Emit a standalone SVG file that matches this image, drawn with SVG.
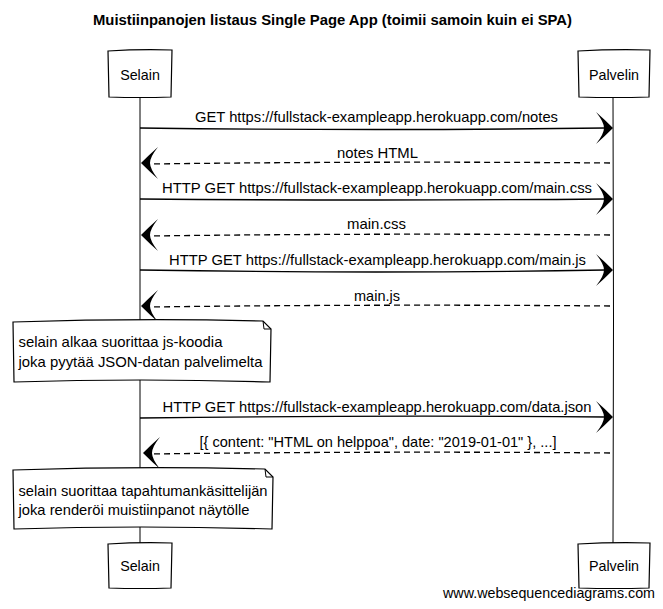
<svg xmlns="http://www.w3.org/2000/svg" width="663" height="609" viewBox="0 0 663 609">
<style>
text{font-family:"Liberation Sans",Arial,sans-serif;font-size:14.3px;fill:#000}
.title{font-weight:bold;font-size:14.5px}
.box{fill:#fff;stroke:#000;stroke-width:1.2}
.life{stroke:#000;stroke-width:1;fill:none}
.msg{stroke:#000;stroke-width:1.3;fill:none}
.ret{stroke:#000;stroke-width:1.3;fill:none;stroke-dasharray:6,4}
.head{fill:#000}
</style>
<defs>
<path id="hr" d="M0,0 Q-9,-9 -17,-16 Q-9,-6 -9,0 Q-9,6 -17,16 Q-9,9 0,0 Z"/>
<path id="hl" d="M0,0 Q9,-9 17,-16 Q9,-6 9,0 Q9,6 17,16 Q9,9 0,0 Z"/>
</defs>
<rect width="663" height="609" fill="#fff"/>
<text class="title" x="332.5" y="25" text-anchor="middle" textLength="479" lengthAdjust="spacingAndGlyphs">Muistiinpanojen listaus Single Page App (toimii samoin kuin ei SPA)</text>
<g id="lifelines">
<path class="life" d="M140,97 L140,543"/>
<path class="life" d="M613,97 Q614,320 613,543"/>
</g>
<g id="selain-top">
<path class="box" d="M108,51 Q140,49 172,50 L171,97 Q140,98 109,97 Z"/>
<text x="140" y="80" text-anchor="middle">Selain</text>
</g>
<g id="palvelin-top">
<path class="box" d="M578,51 Q614,49 650,50 L649,97 Q614,98 579,97 Z"/>
<text x="614" y="80" text-anchor="middle">Palvelin</text>
</g>
<g id="selain-bottom">
<path class="box" d="M108,544 Q140,542 172,543 L171,588 Q140,589 109,588 Z"/>
<text x="140" y="571" text-anchor="middle">Selain</text>
</g>
<g id="palvelin-bottom">
<path class="box" d="M578,544 Q614,542 650,543 L649,588 Q614,589 579,588 Z"/>
<text x="614" y="571" text-anchor="middle">Palvelin</text>
</g>
<g id="connectors">
<path class="msg" d="M140,128 Q380,131 605,128"/>
<use href="#hr" class="head" x="613" y="128"/>
<text x="376.5" y="122" text-anchor="middle" textLength="363" lengthAdjust="spacingAndGlyphs">GET https://fullstack-exampleapp.herokuapp.com/notes</text>

<path class="ret" d="M610,163 Q380,161 148,164"/>
<use href="#hl" class="head" x="141" y="163"/>
<text x="377.5" y="158" text-anchor="middle" textLength="81" lengthAdjust="spacingAndGlyphs">notes HTML</text>

<path class="msg" d="M140,199 Q380,201 605,199"/>
<use href="#hr" class="head" x="613" y="199"/>
<text x="377" y="193" text-anchor="middle" textLength="430" lengthAdjust="spacingAndGlyphs">HTTP GET https://fullstack-exampleapp.herokuapp.com/main.css</text>

<path class="ret" d="M610,235 Q380,233 148,236"/>
<use href="#hl" class="head" x="141" y="235"/>
<text x="376.5" y="229" text-anchor="middle" textLength="59" lengthAdjust="spacingAndGlyphs">main.css</text>

<path class="msg" d="M140,270 Q380,274 605,270"/>
<use href="#hr" class="head" x="613" y="270"/>
<text x="377.5" y="265" text-anchor="middle" textLength="417" lengthAdjust="spacingAndGlyphs">HTTP GET https://fullstack-exampleapp.herokuapp.com/main.js</text>

<path class="ret" d="M610,306 Q380,304 148,307"/>
<use href="#hl" class="head" x="141" y="306"/>
<text x="377" y="301" text-anchor="middle" textLength="46" lengthAdjust="spacingAndGlyphs">main.js</text>

<path class="msg" d="M140,418 Q380,415 605,417"/>
<use href="#hr" class="head" x="613" y="417"/>
<text x="377" y="412" text-anchor="middle" textLength="429" lengthAdjust="spacingAndGlyphs">HTTP GET https://fullstack-exampleapp.herokuapp.com/data.json</text>

<path class="ret" d="M610,453 Q380,451 150,454"/>
<use href="#hl" class="head" x="143" y="453"/>
<text x="378" y="447" text-anchor="middle" textLength="357" lengthAdjust="spacingAndGlyphs">[{ content: "HTML on helppoa", date: "2019-01-01" }, ...]</text>
</g>
<g id="note1">
<path class="box" d="M13,322 Q140,318 263,321 L271,329 L270,382 Q140,378 14,382 Z"/>
<path class="life" d="M263,321 L264,329 L271,329"/>
<text x="18.5" y="347" textLength="204" lengthAdjust="spacingAndGlyphs">selain alkaa suorittaa js-koodia</text>
<text x="18.5" y="367" textLength="244" lengthAdjust="spacingAndGlyphs">joka pyytää JSON-datan palvelimelta</text>
</g>
<g id="note2">
<path class="box" d="M13,470 Q140,466 265,469 L273,477 L272,529 Q140,525 14,529 Z"/>
<path class="life" d="M265,469 L266,477 L273,477"/>
<text x="18.5" y="495.5" textLength="249" lengthAdjust="spacingAndGlyphs">selain suorittaa tapahtumankäsittelijän</text>
<text x="18.5" y="515" textLength="231" lengthAdjust="spacingAndGlyphs">joka renderöi muistiinpanot näytölle</text>
</g>
<text x="655" y="598" text-anchor="end" textLength="212" lengthAdjust="spacingAndGlyphs">www.websequencediagrams.com</text>
</svg>
